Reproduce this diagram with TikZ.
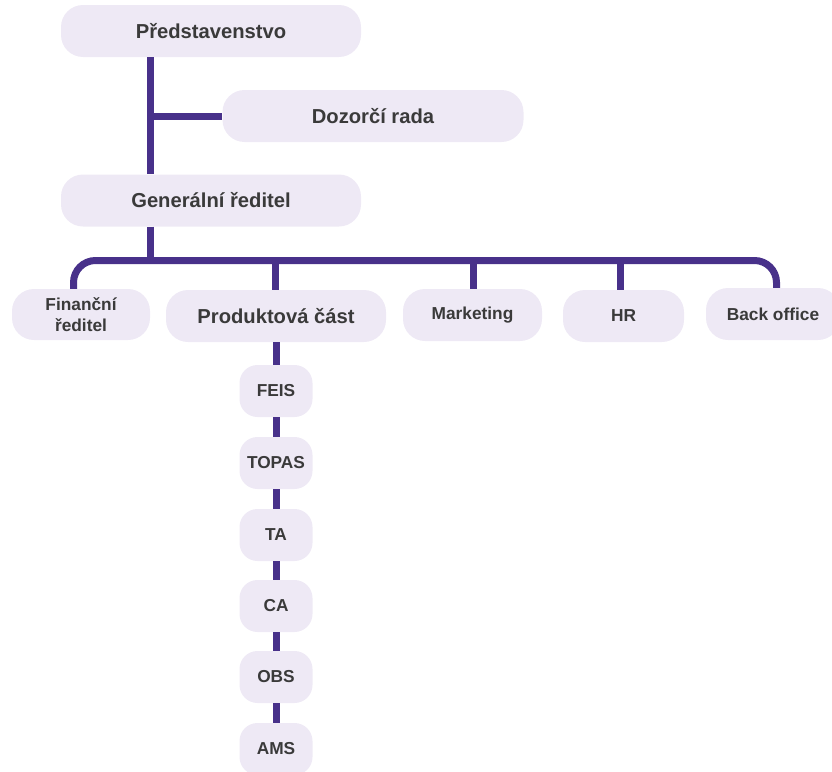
\documentclass[tikz,border=0pt]{standalone}
\usepackage{fontspec}
\setmainfont{Liberation Sans}
\definecolor{boxfill}{HTML}{EEE9F5}
\definecolor{linecol}{HTML}{48318A}
\definecolor{txtcol}{HTML}{3A3A3A}
\begin{document}
\begin{tikzpicture}[x=1pt,y=-1pt,
  box/.style={rectangle, rounded corners=22pt, fill=boxfill, draw=none, text=txtcol,
    inner sep=0pt, minimum height=52pt, align=center},
  bigtxt/.style={font=\fontsize{20.2}{24}\selectfont\bfseries},
  smalltxt/.style={font=\fontsize{17.3}{21}\selectfont\bfseries},
  chainbox/.style={box, rounded corners=18pt, minimum width=73pt, smalltxt},
  conn/.style={draw=linecol, line width=7pt}]
\useasboundingbox (0,0) rectangle (832,771);

% nodes
\node[box, bigtxt, minimum width=300pt] (pred) at (211,31) {Představenstvo};
\node[box, bigtxt, minimum width=301pt] (doz) at (373,116) {Dozorčí rada};
\node[box, bigtxt, minimum width=300pt] (gr) at (211,200.5) {Generální ředitel};

\node[box, smalltxt, minimum width=138pt, minimum height=51pt] (fin) at (81,314.5) {Finanční\\ředitel};
\node[box, bigtxt, minimum width=220pt] (prod) at (276,316) {Produktová část};
\node[box, smalltxt, minimum width=139pt] (mkt) at (472.5,315) {Marketing};
\node[box, smalltxt, minimum width=121pt] (hr) at (623.5,316) {\raisebox{1pt}{HR}};
\node[box, smalltxt, minimum width=134pt] (bo) at (773,314) {Back office};

\node[chainbox] (feis) at (276,391) {FEIS};
\node[chainbox] (topas) at (276,463) {TOPAS};
\node[chainbox] (ta) at (276,535) {TA};
\node[chainbox] (ca) at (276,606) {CA};
\node[chainbox] (obs) at (276,677) {OBS};
\node[chainbox] (ams) at (276,749) {AMS};

% coordinates
\coordinate (trunk) at (150,0);
\coordinate (busy) at (0,260.5);
\coordinate (finx) at (73.5,0);
\coordinate (prodx) at (275.5,0);
\coordinate (mktx) at (473.5,0);
\coordinate (hrx) at (620.5,0);
\coordinate (box) at (776.5,0);

% connectors
\path[conn] (trunk |- pred.south) -- (trunk |- gr.north);
\path[conn] (trunk |- doz.west) -- (doz.west);
\path[conn] (trunk |- gr.south) -- (trunk |- busy);
\path[conn, rounded corners=22pt, line cap=butt] (finx |- fin.north) -- (finx |- busy) -- (box |- busy) -- (box |- bo.north);
\path[conn] (prodx |- busy) -- (prodx |- prod.north);
\path[conn] (mktx |- busy) -- (mktx |- mkt.north);
\path[conn] (hrx |- busy) -- (hrx |- hr.north);

\path[conn] (prod.south) -- (feis.north);
\path[conn] (feis.south) -- (topas.north);
\path[conn] (topas.south) -- (ta.north);
\path[conn] (ta.south) -- (ca.north);
\path[conn] (ca.south) -- (obs.north);
\path[conn] (obs.south) -- (ams.north);
\end{tikzpicture}
\end{document}
